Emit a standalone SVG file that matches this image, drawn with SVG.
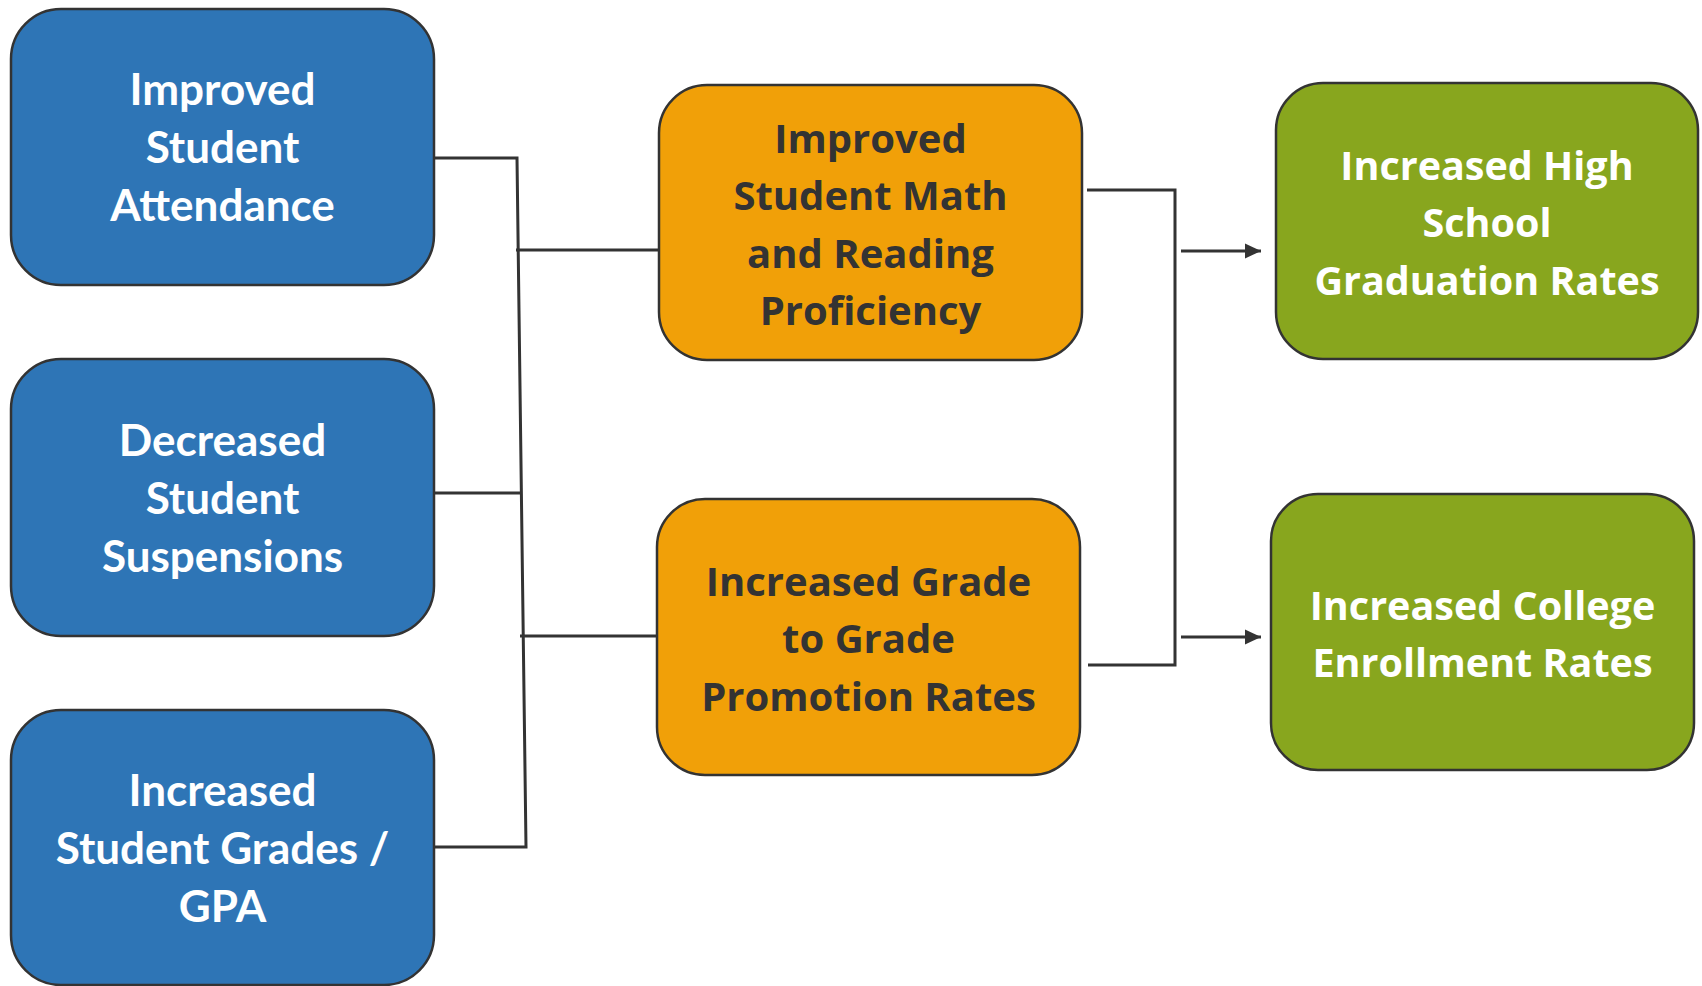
<svg xmlns="http://www.w3.org/2000/svg" width="1702" height="986" viewBox="0 0 1702 986">
<defs>
<style>
.box{stroke:#333333;stroke-width:2.5}
.blue{fill:#2E75B6}
.orange{fill:#F1A008}
.green{fill:#88A61E}
.tb{font-family:Lato,"Liberation Sans",sans-serif;font-weight:bold;font-size:44px;fill:#FFFFFF;text-anchor:middle}
.to{font-family:"Open Sans","Liberation Sans",sans-serif;font-weight:bold;font-size:40px;fill:#333333;text-anchor:middle}
.tg{font-family:"Open Sans","Liberation Sans",sans-serif;font-weight:bold;font-size:39.5px;fill:#FFFFFF;text-anchor:middle}
.conn{fill:none;stroke:#333333;stroke-width:3}
</style>
<marker id="arr" markerWidth="16" markerHeight="16" refX="16" refY="8" orient="auto" markerUnits="userSpaceOnUse">
<path d="M0,0.5 L16,8 L0,15.5 Z" fill="#333333"/>
</marker>
</defs>
<rect width="1702" height="986" fill="#FFFFFF"/>
<g id="connectors">
<polyline class="conn" points="431,158 517,158 526,847 435,847"/>
<line class="conn" x1="434" y1="493" x2="521" y2="493"/>
<line class="conn" x1="516" y1="250" x2="660" y2="250"/>
<line class="conn" x1="520" y1="636" x2="663" y2="636"/>
<polyline class="conn" points="1087,190 1175,190 1175,665 1088,665"/>
<line class="conn" x1="1181" y1="251" x2="1261" y2="251" marker-end="url(#arr)"/>
<line class="conn" x1="1181" y1="637" x2="1261" y2="637" marker-end="url(#arr)"/>
</g>
<g id="node-attendance">
<rect class="box blue" x="11" y="9" width="423" height="276" rx="50" ry="50"/>
<text class="tb" x="222.5" y="105">Improved</text>
<text class="tb" x="222.5" y="163">Student</text>
<text class="tb" x="222.5" y="221">Attendance</text>
</g>
<g id="node-suspensions">
<rect class="box blue" x="11" y="359" width="423" height="277" rx="50" ry="50"/>
<text class="tb" x="222.5" y="456">Decreased</text>
<text class="tb" x="222.5" y="514">Student</text>
<text class="tb" x="222.5" y="572">Suspensions</text>
</g>
<g id="node-grades">
<rect class="box blue" x="11" y="710" width="423" height="275" rx="50" ry="50"/>
<text class="tb" x="222.5" y="806">Increased</text>
<text class="tb" x="222.5" y="864">Student Grades /</text>
<text class="tb" x="222.5" y="922">GPA</text>
</g>
<g id="node-proficiency">
<rect class="box orange" x="659" y="85" width="423" height="275" rx="48" ry="48"/>
<text class="to" x="870.5" y="153">Improved</text>
<text class="to" x="870.5" y="210">Student Math</text>
<text class="to" x="870.5" y="268">and Reading</text>
<text class="to" x="870.5" y="325">Proficiency</text>
</g>
<g id="node-promotion">
<rect class="box orange" x="657" y="499" width="423" height="276" rx="48" ry="48"/>
<text class="to" x="868.5" y="596">Increased Grade</text>
<text class="to" x="868.5" y="653">to Grade</text>
<text class="to" x="868.5" y="711">Promotion Rates</text>
</g>
<g id="node-graduation">
<rect class="box green" x="1276" y="83" width="422" height="276" rx="47" ry="47"/>
<text class="tg" x="1487" y="180">Increased High</text>
<text class="tg" x="1487" y="237">School</text>
<text class="tg" x="1487" y="295">Graduation Rates</text>
</g>
<g id="node-college">
<rect class="box green" x="1271" y="494" width="423" height="276" rx="47" ry="47"/>
<text class="tg" x="1482.5" y="620">Increased College</text>
<text class="tg" x="1482.5" y="677">Enrollment Rates</text>
</g>
</svg>
